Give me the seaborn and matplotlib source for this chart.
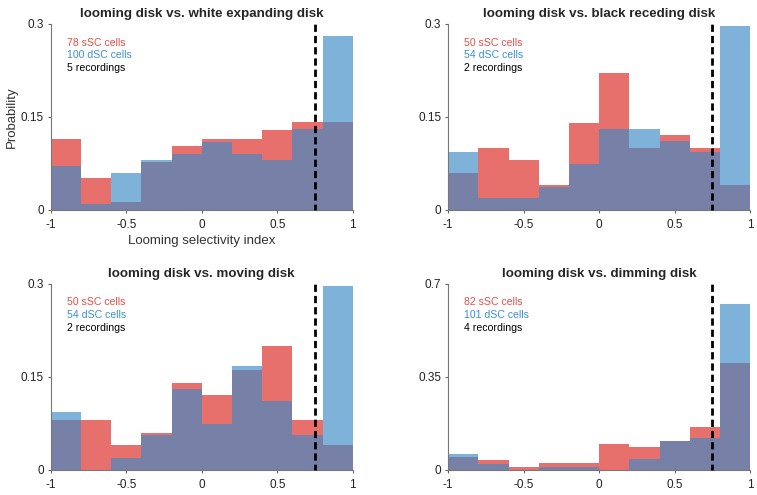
import pandas as pd
import matplotlib
matplotlib.use('Agg')
import matplotlib.pyplot as plt
import seaborn as sns

sns.set_style('ticks')
plt.rcParams['font.family'] = ['Liberation Sans', 'DejaVu Sans']
plt.rcParams['axes.unicode_minus'] = False

# bin centres of the selectivity index histogram (10 bins between -1 and 1)
bin_centers = [-0.9, -0.7, -0.5, -0.3, -0.1, 0.1, 0.3, 0.5, 0.7, 0.9]

titles = [
    'looming disk vs. white expanding disk',
    'looming disk vs. black receding disk',
    'looming disk vs. moving disk',
    'looming disk vs. dimming disk',
]

# probabilities
ssc_white = [0.115, 0.051, 0.013, 0.077, 0.103, 0.115, 0.115, 0.128, 0.141, 0.141]
dsc_white = [0.07, 0.01, 0.06, 0.08, 0.09, 0.11, 0.09, 0.08, 0.13, 0.28]

ssc_black = [0.06, 0.10, 0.08, 0.04, 0.14, 0.22, 0.10, 0.12, 0.10, 0.04]
dsc_black = [0.093, 0.019, 0.019, 0.037, 0.074, 0.13, 0.13, 0.111, 0.093, 0.296]

ssc_moving = [0.08, 0.08, 0.04, 0.06, 0.14, 0.12, 0.16, 0.20, 0.08, 0.04]
dsc_moving = [0.093, 0.0, 0.019, 0.056, 0.13, 0.074, 0.167, 0.111, 0.056, 0.296]

ssc_dimming = [0.049, 0.037, 0.012, 0.024, 0.024, 0.098, 0.085, 0.11, 0.159, 0.402]
dsc_dimming = [0.06, 0.02, 0.0, 0.01, 0.01, 0.0, 0.04, 0.109, 0.119, 0.624]

ssc_counts = ['78 sSC cells', '50 sSC cells', '50 sSC cells', '82 sSC cells']
dsc_counts = ['100 dSC cells', '54 dSC cells', '54 dSC cells', '101 dSC cells']
recordings = ['5 recordings', '2 recordings', '2 recordings', '4 recordings']

ymax = [0.3, 0.3, 0.3, 0.7]
yticks = [[0, 0.15, 0.3], [0, 0.15, 0.3], [0, 0.15, 0.3], [0, 0.35, 0.7]]
ytick_labels = [['0', '0.15', '0.3'], ['0', '0.15', '0.3'], ['0', '0.15', '0.3'], ['0', '0.35', '0.7']]
xticks = [-1, -0.5, 0, 0.5, 1]
xtick_labels = ['-1', '-0.5', '0', '0.5', '1']
threshold = 0.75

ssc_all = [ssc_white, ssc_black, ssc_moving, ssc_dimming]
dsc_all = [dsc_white, dsc_black, dsc_moving, dsc_dimming]

red = '#DC231D'
blue = '#3A89C6'

fig = plt.figure(figsize=(7.57, 4.95), dpi=100)
positions = [
    [0.067, 0.576, 0.399, 0.376],
    [0.592, 0.576, 0.399, 0.376],
    [0.067, 0.051, 0.399, 0.376],
    [0.592, 0.051, 0.399, 0.376],
]

for i in range(4):
    ax = fig.add_axes(positions[i])
    df = pd.DataFrame({'index': bin_centers, 'ssc': ssc_all[i], 'dsc': dsc_all[i]})
    sns.histplot(data=df, x='index', weights='ssc', bins=10, binrange=(-1, 1), ax=ax,
                 color=red, alpha=0.65, linewidth=0)
    sns.histplot(data=df, x='index', weights='dsc', bins=10, binrange=(-1, 1), ax=ax,
                 color=blue, alpha=0.65, linewidth=0)
    ax.plot([threshold, threshold], [0, ymax[i]], color='black',
            linestyle=(0.5, (2.6, 1.45)), linewidth=2.0, clip_on=False, zorder=5)

    ax.set_xlim(-1, 1)
    ax.set_ylim(0, ymax[i])
    ax.set_xticks(xticks)
    ax.set_xticklabels(xtick_labels)
    ax.set_yticks(yticks[i])
    ax.set_yticklabels(ytick_labels[i])
    ax.tick_params(labelsize=8.5, length=2.5, width=0.8, color='#666666',
                   labelcolor='#222222')
    ax.tick_params(axis='x', pad=4)
    ax.tick_params(axis='y', pad=2.5)
    for side in ['top', 'right']:
        ax.spines[side].set_visible(False)
    for side in ['left', 'bottom']:
        ax.spines[side].set_color('#777777')
        ax.spines[side].set_linewidth(0.8)

    ax.set_title(titles[i], fontsize=9.6, fontweight='bold', pad=5)

    ax.text(0.054, 0.899, ssc_counts[i], transform=ax.transAxes, color='#E5504A',
            fontsize=7.6, va='center')
    ax.text(0.054, 0.832, dsc_counts[i], transform=ax.transAxes, color='#3D90D0',
            fontsize=7.6, va='center')
    ax.text(0.054, 0.762, recordings[i], transform=ax.transAxes, color='black',
            fontsize=7.6, va='center')

    if i == 0:
        ax.set_ylabel('Probability', fontsize=9.5, color='#333333')
        ax.yaxis.set_label_coords(-0.11, 0.5)
        ax.set_xlabel('Looming selectivity index', fontsize=9.5, color='#333333', labelpad=3)
    else:
        ax.set_ylabel('')
        ax.set_xlabel('')

fig.savefig('out.png', dpi=100)
